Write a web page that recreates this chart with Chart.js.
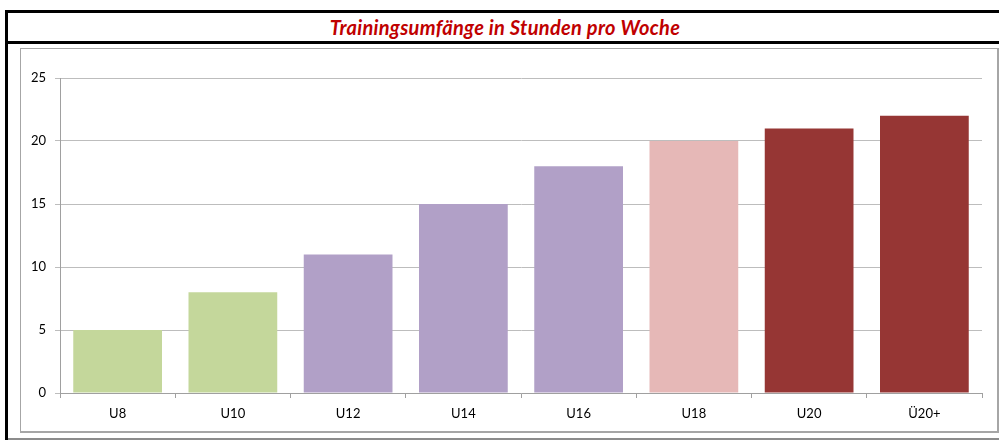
<!DOCTYPE html>
<html>
<head>
<meta charset="utf-8">
<script src="https://cdn.jsdelivr.net/npm/chart.js@4"></script>
<style>
  body { margin: 0; background: #fff; width: 999px; height: 440px; overflow: hidden; position: relative; }
  #frame { position: absolute; left: 5px; top: 10px; width: 994px; height: 430px; border-left: 3px solid #000; }
  #title { position: absolute; left: 0; top: 0; width: 994px; height: 28px; border-top: 3px solid #000; border-bottom: 3px solid #000;
           text-align: center; font: italic bold 20px Lato, sans-serif; letter-spacing: 0.3px; color: #C00000; line-height: 29px; }
  #box { position: absolute; left: 20px; top: 48px; width: 976px; height: 382px; border: 1px solid #A6A6A6; border-width: 1px 2px 2px 1px; }
  #bottomline { position: absolute; left: 8px; top: 438px; width: 991px; height: 0; border-top: 2px solid #8C8C8C; }
</style>
</head>
<body>
<div id="frame"><div id="title">Trainingsumfänge in Stunden pro Woche</div></div>
<div id="box"><canvas id="chart" width="976" height="382"></canvas></div>
<div id="bottomline"></div>
<script>
document.addEventListener('DOMContentLoaded', () => {

    // Altersklassen und Stunden pro Woche
    const categories = ['U8', 'U10', 'U12', 'U14', 'U16', 'U18', 'U20', 'Ü20+'];
    const hours = [5, 8, 11, 15, 18, 20, 21, 22];
    const yTicks = [0, 5, 10, 15, 20, 25];

    const barColors = ['#C4D79B', '#C4D79B', '#B1A0C7', '#B1A0C7', '#B1A0C7', '#E6B8B7', '#963634', '#963634'];

    const ctx = document.getElementById('chart').getContext('2d');
    new Chart(ctx, {
        type: 'bar',
        data: {
            labels: categories,
            datasets: [{
                label: 'Stunden',
                data: hours,
                backgroundColor: barColors,
                borderWidth: 0,
                barPercentage: 0.77,
                categoryPercentage: 1.0
            }]
        },
        options: {
            responsive: false,
            animation: false,
            layout: { padding: { top: 29, right: 15, left: 0, bottom: 0 } },
            scales: {
                y: {
                    min: 0,
                    max: 25,
                    afterFit: (scale) => { scale.width = 39; },
                    afterBuildTicks: (scale) => { scale.ticks = yTicks.map(v => ({ value: v })); },
                    ticks: { color: '#000', font: { family: 'Lato', size: 13 }, padding: 9 },
                    grid: { color: '#BDBDBD', tickLength: 5, lineWidth: 1 },
                    border: { color: '#A0A0A0' }
                },
                x: {
                    afterFit: (scale) => { scale.height = 38; },
                    ticks: { color: '#000', font: { family: 'Lato', size: 13 }, padding: 8 },
                    grid: { drawOnChartArea: false, color: '#A0A0A0', tickLength: 5 },
                    border: { color: '#A0A0A0' }
                }
            },
            plugins: {
                legend: { display: false },
                tooltip: { enabled: false }
            }
        }
    });

});
</script>
</body>
</html>
